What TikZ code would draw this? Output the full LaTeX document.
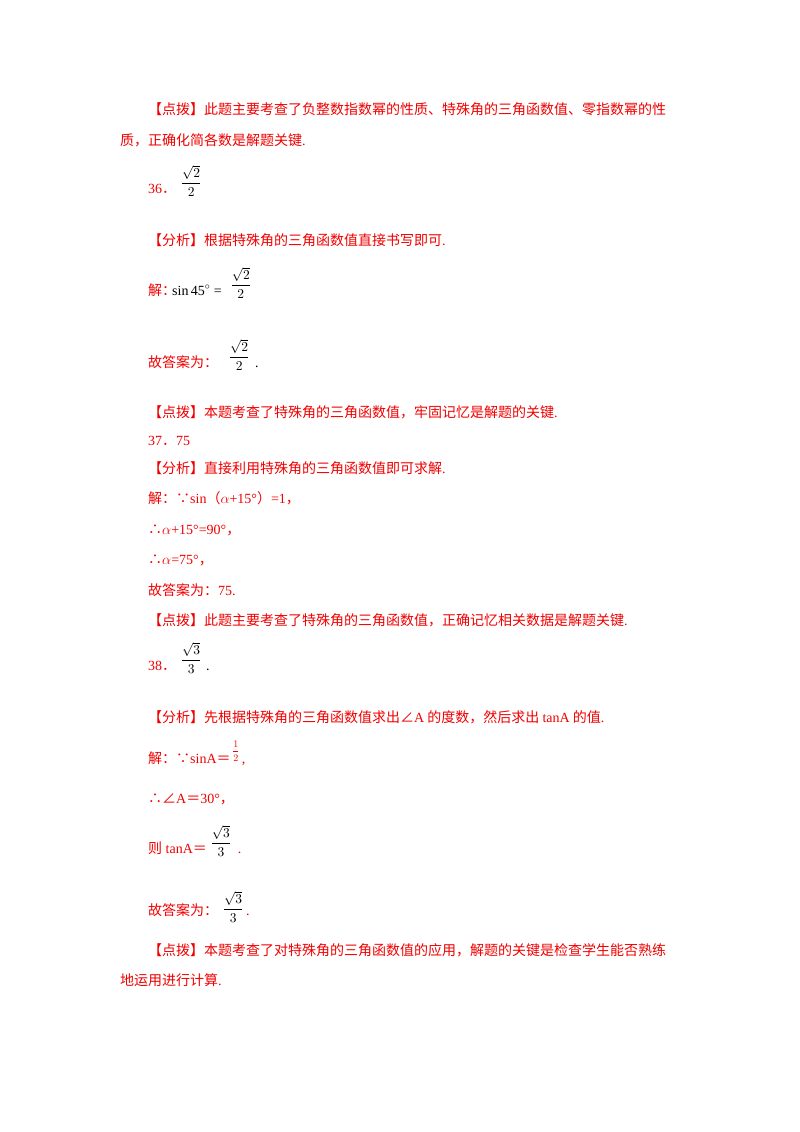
\documentclass[tikz,border=0pt]{standalone}
\usepackage{amsmath}
\usepackage{graphicx}
\usepackage{fontspec}
\setmainfont{Liberation Serif}
\newfontfamily\zhf{Noto Sans CJK SC}
\newcommand{\zh}[1]{{\zhf #1}}
\newcommand{\fr}[2]{\scalebox{1.35}{$\dfrac{#1}{#2}$}}
\definecolor{tred}{RGB}{240,0,0}
\begin{document}
\begin{tikzpicture}[x=1pt,y=-1pt,
  txt/.style={anchor=base west,inner sep=0pt,text=tred,font=\fontsize{14}{16}\selectfont},
  frc/.style={anchor=west,inner sep=0pt,text=black,yshift=12pt}]
\useasboundingbox (0,0) rectangle (800,1132);
\node[txt] (l1) at (148,114) {\zh{【点拨】此题主要考查了负整数指数幂的性质、特殊角的三角函数值、零指数幂的性}};
\node[txt] (l2) at (120,145) {\zh{质，正确化简各数是解题关键}.};
\node[txt] (n36) at (148,193) {36\zh{．}};
\node[frc] (f36) at ([xshift=4pt]n36.base east) {\fr{\sqrt{2}}{2}};
\node[txt] (a36) at (148,245) {\zh{【分析】根据特殊角的三角函数值直接书写即可}.};
\node[txt] (j36) at (148,295) {\zh{解：}};
\node[txt,text=black] (s36) at (172,295) {sin$\,$45$^{\circ}$ =};
\node[frc] (g36) at ([xshift=8pt]s36.base east) {\fr{\sqrt{2}}{2}};
\node[txt] (d36) at (148,367) {\zh{故答案为：}};
\node[frc] (h36) at ([xshift=10pt]d36.base east) {\fr{\sqrt{2}}{2}};
\node[txt,text=black] (p36) at ([xshift=5pt]h36.east |- d36.base) {.};
\node[txt] (k36) at (148,417) {\zh{【点拨】本题考查了特殊角的三角函数值，牢固记忆是解题的关键}.};
\node[txt] (n37) at (148,445) {37\zh{．}75};
\node[txt] (a37) at (148,473) {\zh{【分析】直接利用特殊角的三角函数值即可求解}.};
\node[txt] (j37) at (148,503) {\zh{解：∵}sin\zh{（}$\alpha$+15°\zh{）}=1\zh{，}};
\node[txt] (t37) at (148,534) {\zh{∴}$\alpha$+15°=90°\zh{，}};
\node[txt] (u37) at (148,564) {\zh{∴}$\alpha$=75°\zh{，}};
\node[txt] (d37) at (148,595) {\zh{故答案为：}75.};
\node[txt] (k37) at (148,625) {\zh{【点拨】此题主要考查了特殊角的三角函数值，正确记忆相关数据是解题关键}.};
\node[txt] (n38) at (148,670) {38\zh{．}};
\node[frc] (f38) at ([xshift=4pt]n38.base east) {\fr{\sqrt{3}}{3}};
\node[txt,text=black] (p38) at ([xshift=4pt]f38.east |- n38.base) {.};
\node[txt] (a38) at (148,722) {\zh{【分析】先根据特殊角的三角函数值求出∠}A\zh{ 的度数，然后求出 }tanA\zh{ 的值}.};
\node[txt] (j38) at (148,763) {\zh{解：∵}sinA\zh{＝}};
\node[frc,font=\fontsize{10}{12}\selectfont,text=tred] (g38) at ([xshift=1pt]j38.base east) {$\dfrac{1}{2}$};
\node[txt] (c38) at ([xshift=2pt]g38.east |- j38.base) {,};
\node[txt] (t38) at (148,803) {\zh{∴∠}A\zh{＝}30°\zh{，}};
\node[txt] (r38) at (148,853) {\zh{则} tanA\zh{＝}};
\node[frc] (h38) at ([xshift=3pt]r38.base east) {\fr{\sqrt{3}}{3}};
\node[txt] (q38) at ([xshift=6pt]h38.east |- r38.base) {.};
\node[txt] (d38) at (148,915) {\zh{故答案为：}};
\node[frc] (e38) at ([xshift=4pt,yshift=-4pt]d38.base east) {\fr{\sqrt{3}}{3}};
\node[txt] (o38) at ([xshift=2pt]e38.east |- d38.base) {.};
\node[txt] (k38) at (148,955) {\zh{【点拨】本题考查了对特殊角的三角函数值的应用，解题的关键是检查学生能否熟练}};
\node[txt] (m38) at (120,985) {\zh{地运用进行计算}.};
\end{tikzpicture}
\end{document}
